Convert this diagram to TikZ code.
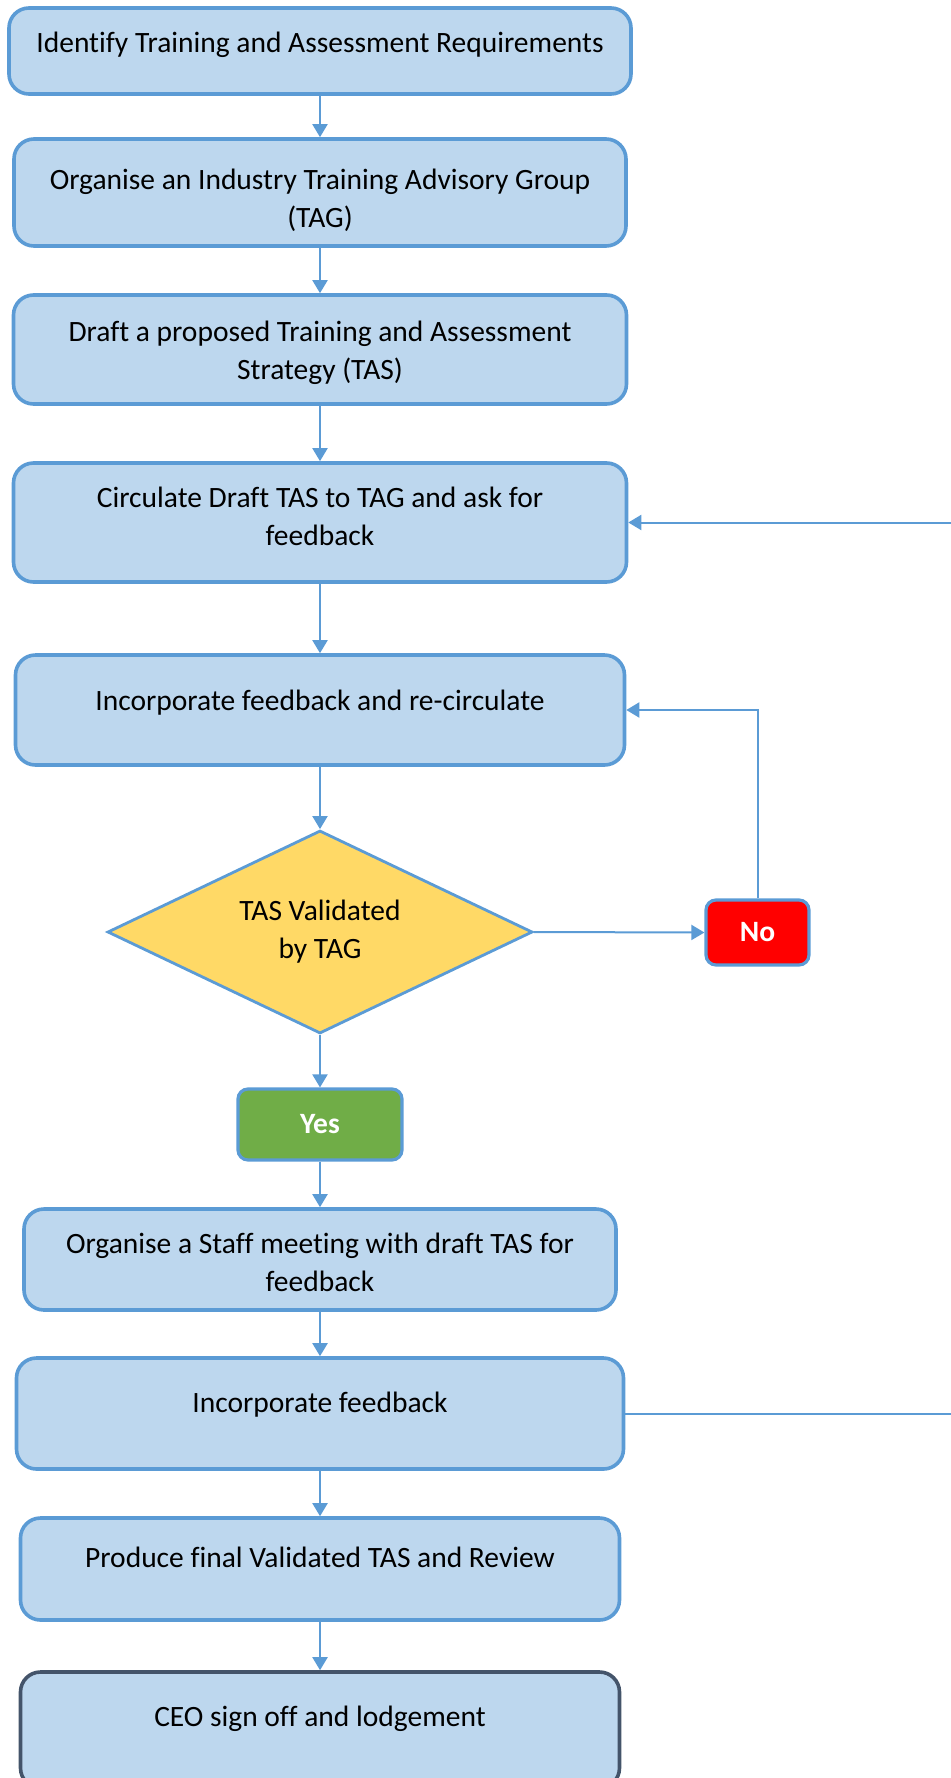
\documentclass[tikz,border=0pt]{standalone}
\usepackage{fontspec}
\setmainfont{Carlito}[Ligatures={NoCommon,NoContextual}]
\usetikzlibrary{shapes.geometric,arrows.meta,positioning}

\definecolor{boxfill}{HTML}{BDD7EE}
\definecolor{boxline}{HTML}{5B9BD5}
\definecolor{decfill}{HTML}{FFD966}
\definecolor{nofill}{HTML}{FF0000}
\definecolor{yesfill}{HTML}{70AD47}
\definecolor{endline}{HTML}{44546A}

\tikzset{
  stepbox/.style={draw=boxline, fill=boxfill, line width=1.8pt, rounded corners=10pt, inner sep=0pt},
  txt/.style={align=center, inner sep=0pt, font=\fontsize{14.75}{19}\selectfont},
  decision/.style={diamond, aspect=2.1, draw=boxline, fill=decfill, line width=1.4pt, inner sep=0pt, align=center,
    font=\fontsize{14.75}{19}\selectfont},
  answer/.style={draw=boxline, line width=1.6pt, rounded corners=5pt, inner sep=0pt, text=white,
    font=\fontsize{14.75}{19}\selectfont\bfseries},
  flow/.style={draw=boxline, line width=1pt, -{Triangle[length=6.5pt,width=7.5pt]}}
}

\begin{document}
\begin{tikzpicture}[x=0.5pt, y=-0.5pt]
\useasboundingbox (0,0) rectangle (951,1778);
\clip (0,0) rectangle (951,1778);

% boxes
\node[stepbox, minimum width=311pt, minimum height=43pt] (b1) at (320,51) {};
\node[stepbox, minimum width=306pt, minimum height=53.5pt] (b2) at (320,192.5) {};
\node[stepbox, minimum width=306.5pt, minimum height=54.5pt] (b3) at (320,349.5) {};
\node[stepbox, minimum width=306.5pt, minimum height=59.5pt] (b4) at (320,522.5) {};
\node[stepbox, minimum width=304.5pt, minimum height=55pt] (b5) at (320,710) {};
\node[decision, minimum width=212.5pt, minimum height=101.5pt] (dec) at (320,932) {TAS Validated\\by TAG};
\node[answer, fill=nofill, minimum width=51.5pt, minimum height=32.5pt] (no) at (757.5,932.5) {No};
\node[answer, fill=yesfill, minimum width=82pt, minimum height=35.5pt] (yes) at (320,1124.5) {Yes};
\node[stepbox, minimum width=296pt, minimum height=50.5pt] (b6) at (320,1259.5) {};
\node[stepbox, minimum width=303.5pt, minimum height=55.5pt] (b7) at (320,1413.5) {};
\node[stepbox, minimum width=299.5pt, minimum height=51pt] (b8) at (320,1569) {};
\node[stepbox, draw=endline, minimum width=299.5pt, minimum height=58pt] (b9) at (320,1730) {};

% texts
\node[txt, below=12.5pt of b1.north] (t1) {Identify Training and Assessment Requirements};
\node[txt, below=15.5pt of b2.north] (t2) {Organise an Industry Training Advisory Group\\(TAG)};
\node[txt, below=13.5pt of b3.north] (t3) {Draft a proposed Training and Assessment\\Strategy (TAS)};
\node[txt, below=12.5pt of b4.north] (t4) {Circulate Draft TAS to TAG and ask for\\feedback};
\node[txt, below=18pt of b5.north] (t5) {Incorporate feedback and re-circulate};
\node[txt, below=12.5pt of b6.north] (t6) {Organise a Staff meeting with draft TAS for\\feedback};
\node[txt, below=17.5pt of b7.north] (t7) {Incorporate feedback};
\node[txt, below=15pt of b8.north] (t8) {Produce final Validated TAS and Review};
\node[txt, below=17.5pt of b9.north] (t9) {CEO sign off and lodgement};

% connectors
\foreach \a/\b in {b1/b2,b2/b3,b3/b4,b4/b5,b5/dec,dec/yes,yes/b6,b6/b7,b7/b8,b8/b9}
  \draw[flow] (\a.south) -- (\b.north);
\draw[flow] (dec.east) -- (no.west);
\draw[flow] (no.north) |- (b5.east);
\coordinate (loop) at (990,0);
\draw[flow] (b7.east) -- (b7.east -| loop) |- (b4.east);
\end{tikzpicture}
\end{document}
